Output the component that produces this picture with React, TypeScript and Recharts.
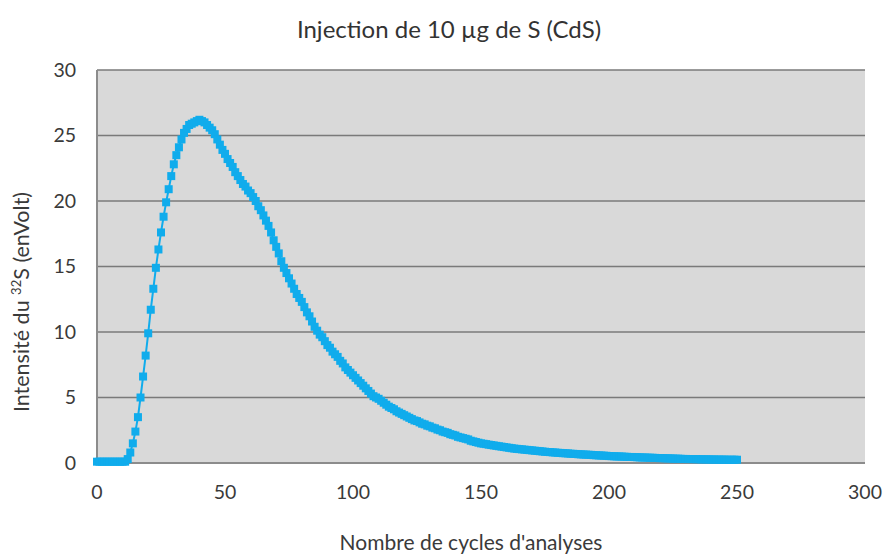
import { CartesianGrid, Label, Line, LineChart, XAxis, YAxis } from "recharts";

const CYCLE_COUNT = 251;

// intensité du 32S par cycle d'analyse (V), cycles 0 à 250
const intensity = [
  0.1, 0.1, 0.1, 0.1, 0.1, 0.1, 0.1, 0.1, 0.1, 0.1,
  0.1, 0.1, 0.3, 0.8, 1.5, 2.4, 3.5, 5.0, 6.6, 8.2,
  9.9, 11.7, 13.3, 14.9, 16.3, 17.6, 18.8, 19.9, 20.9, 21.9,
  22.8, 23.5, 24.1, 24.7, 25.2, 25.5, 25.8, 25.9, 26.0, 26.1,
  26.2, 26.1, 26.0, 25.8, 25.6, 25.4, 25.1, 24.7, 24.3, 23.9,
  23.6, 23.2, 22.9, 22.6, 22.2, 21.9, 21.6, 21.3, 21.1, 20.8,
  20.6, 20.3, 20.0, 19.6, 19.3, 18.9, 18.5, 18.1, 17.6, 17.0,
  16.5, 16.0, 15.4, 14.9, 14.5, 14.1, 13.7, 13.3, 12.9, 12.6,
  12.3, 11.9, 11.5, 11.2, 10.8, 10.4, 10.1, 9.8, 9.6, 9.3,
  9.0, 8.8, 8.5, 8.3, 8.1, 7.8, 7.6, 7.3, 7.1, 6.9,
  6.7, 6.5, 6.3, 6.1, 5.9, 5.7, 5.5, 5.3, 5.1, 5.0,
  4.9, 4.75, 4.6, 4.45, 4.3, 4.2, 4.1, 3.95, 3.85, 3.75,
  3.65, 3.55, 3.45, 3.35, 3.25, 3.2, 3.1, 3.0, 2.95, 2.85,
  2.8, 2.7, 2.65, 2.55, 2.5, 2.4, 2.35, 2.3, 2.2, 2.15,
  2.1, 2.0, 1.95, 1.9, 1.85, 1.8, 1.7, 1.65, 1.6, 1.55,
  1.5, 1.47, 1.44, 1.4, 1.37, 1.34, 1.31, 1.28, 1.25, 1.22,
  1.19, 1.16, 1.13, 1.1, 1.08, 1.06, 1.04, 1.02, 1.0, 0.98,
  0.96, 0.94, 0.92, 0.9, 0.88, 0.86, 0.84, 0.83, 0.81, 0.8,
  0.78, 0.77, 0.75, 0.74, 0.73, 0.71, 0.7, 0.69, 0.67, 0.66,
  0.65, 0.64, 0.63, 0.62, 0.6, 0.59, 0.58, 0.57, 0.56, 0.55,
  0.53, 0.52, 0.51, 0.5, 0.5, 0.49, 0.48, 0.47, 0.46, 0.46,
  0.45, 0.44, 0.43, 0.42, 0.42, 0.41, 0.4, 0.4, 0.39, 0.38,
  0.37, 0.37, 0.36, 0.35, 0.35, 0.34, 0.33, 0.33, 0.32, 0.31,
  0.31, 0.3, 0.3, 0.3, 0.29, 0.29, 0.28, 0.28, 0.28, 0.27,
  0.27, 0.27, 0.26, 0.26, 0.26, 0.26, 0.25, 0.25, 0.25, 0.25,
  0.25,
];

const cycles = Array.from({ length: CYCLE_COUNT }, (_, i) => i);

const xTicks = [0, 50, 100, 150, 200, 250, 300];
const yTicks = [0, 5, 10, 15, 20, 25, 30];

const data = cycles.map((c, i) => ({ cycle: c, s32: intensity[i] }));

const BLUE = "#10ACEC";
const FONT = "Lato, 'Open Sans', sans-serif";
const TEXT = "#3a3a3a";

function SquareDot(props: any) {
  const { cx, cy, index } = props;
  if (cx == null || cy == null) return null;
  return <rect key={`sq-${index}`} x={cx - 4} y={cy - 4} width={8} height={8} fill={BLUE} />;
}

function YTitle() {
  return (
    <text
      transform="translate(29, 302) rotate(-90)"
      textAnchor="middle"
      fontFamily={FONT}
      fontSize={21.5}
      fill={TEXT}
    >
      <tspan>Intensité du </tspan>
      <tspan fontSize={13} dy={-8}>32</tspan>
      <tspan dy={8}>S (enVolt)</tspan>
    </text>
  );
}

function XTitle() {
  return (
    <text x={471} y={550} textAnchor="middle" fontFamily={FONT} fontSize={21} fill={TEXT}>
      Nombre de cycles d'analyses
    </text>
  );
}

export default function App() {
  return (
    <div style={{ position: "absolute", left: 0, top: 0, width: 886, height: 557, background: "#fff" }}>
      <div
        style={{
          position: "absolute",
          left: 0,
          top: 14,
          width: 898,
          textAlign: "center",
          fontFamily: FONT,
          fontSize: 24,
          color: "#333",
        }}
      >
        Injection de 10 µg de S (CdS)
      </div>
      <LineChart width={886} height={557} data={data} margin={{ top: 70, right: 21, bottom: 0, left: 0 }}>
        <CartesianGrid vertical={false} fill="#D9D9D9" stroke="#7a7a7a" strokeWidth={1.5} horizontalValues={yTicks} />
        <XAxis
          dataKey="cycle"
          type="number"
          domain={[0, 300]}
          ticks={xTicks}
          height={94}
          tickSize={0}
          tickMargin={22}
          axisLine={{ stroke: "#8c8c8c", strokeWidth: 2 }}
          tick={{ fill: TEXT, fontSize: 19.5, fontFamily: FONT }}
        >
          <Label content={XTitle} />
        </XAxis>
        <YAxis
          domain={[0, 30]}
          ticks={yTicks}
          width={97}
          tickSize={0}
          tickMargin={21}
          axisLine={{ stroke: "#8c8c8c", strokeWidth: 2 }}
          tick={{ fill: TEXT, fontSize: 19.5, fontFamily: FONT }}
        >
          <Label content={YTitle} />
        </YAxis>
        <YAxis
          yAxisId="frame"
          orientation="right"
          width={0}
          domain={[0, 30]}
          tick={false}
          tickLine={false}
          axisLine={{ stroke: "#9a9a9a", strokeWidth: 2 }}
        />
        <Line
          dataKey="s32"
          stroke={BLUE}
          strokeWidth={2}
          dot={SquareDot}
          activeDot={false}
          isAnimationActive={false}
        />
      </LineChart>
    </div>
  );
}
